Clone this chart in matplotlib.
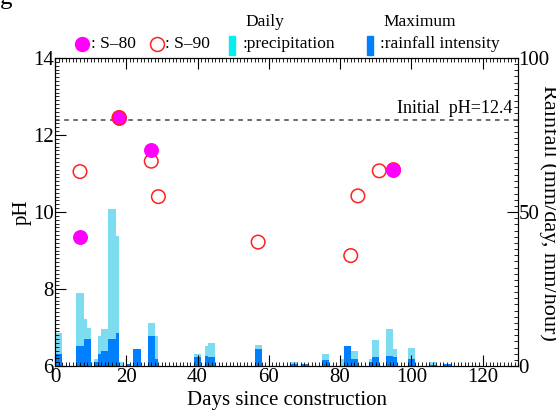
import matplotlib
matplotlib.use("Agg")
import matplotlib.pyplot as plt
from matplotlib.lines import Line2D
from matplotlib.patches import Rectangle
from matplotlib.ticker import MultipleLocator

plt.rcParams['font.family'] = ['Liberation Serif', 'DejaVu Serif']
plt.rcParams['font.size'] = 14

# pH measurements
s80_days = [7, 18, 27, 95]
s80_ph = [9.35, 12.45, 11.6, 11.1]
s90_days = [7, 18, 27, 29, 57, 83, 85, 91, 95]
s90_ph = [11.05, 12.45, 11.32, 10.4, 9.22, 8.87, 10.42, 11.07, 11.1]
initial_ph = 12.4

# rainfall (mm/day and mm/hour)
rain_days = [0, 1, 6, 7, 8, 9, 11, 12, 13, 14, 15, 16, 17, 18, 20, 22, 23,
             26, 27, 28, 39, 40, 42, 43, 44, 56, 57, 66, 67, 69, 70, 75, 76,
             80, 81, 82, 83, 84, 88, 89, 90, 93, 94, 95, 99, 100, 105, 106,
             109, 110]
daily_precip = [10.8, 10.8, 23.8, 23.8, 15.2, 12.4, 2.2, 9.7, 12.0, 12.0,
                51.0, 51.0, 42.2, 1.3, 0.8, 5.7, 5.7, 13.9, 13.9, 9.7, 3.9,
                3.9, 6.5, 7.5, 7.5, 6.8, 6.8, 1.3, 1.3, 0.8, 0.8, 3.9, 3.9,
                2.3, 6.5, 6.5, 4.9, 4.9, 2.3, 8.4, 8.4, 12.0, 12.0, 5.5, 5.8,
                5.8, 1.3, 1.3, 0.8, 0.8]
max_intensity = [3.9, 3.9, 6.6, 6.6, 8.8, 8.8, 1.2, 3.9, 4.9, 4.9, 8.8, 8.8,
                 10.8, 0.0, 0.8, 5.7, 5.7, 9.7, 9.7, 2.3, 2.9, 2.9, 3.2, 3.0,
                 3.0, 5.6, 5.6, 0.6, 0.6, 0.8, 0.8, 2.0, 2.0, 0.0, 6.5, 6.5,
                 2.3, 2.3, 1.4, 3.0, 3.0, 3.2, 3.2, 3.0, 2.3, 2.3, 0.5, 0.5,
                 0.8, 0.8]

light_blue = '#7ddcf0'
dark_blue = '#0080ff'

fig = plt.figure(figsize=(5.56, 4.17), dpi=100)
ax = fig.add_axes([0.099, 0.122, 0.833, 0.739])
ax2 = ax.twinx()

# bars on the rainfall axis
ax2.bar(rain_days, daily_precip, width=1, align='edge', color=light_blue, linewidth=0)
ax2.bar(rain_days, max_intensity, width=1, align='edge', color=dark_blue, linewidth=0)
ax2.set_ylim(0, 100)
ax2.set_yticks([0, 50, 100])
ax2.yaxis.set_minor_locator(MultipleLocator(2))
ax2.tick_params(which='both', direction='in', right=True)
ax2.tick_params(which='major', length=8, pad=0, labelsize=15)
ax2.tick_params(which='minor', length=3)
fig.text(548.5 / 556, 1 - 213 / 417, 'Rainfall (mm/day, mm/hour)', rotation=270,
         ha='center', va='center', fontsize=16)

# pH on top of bars
ax.set_zorder(ax2.get_zorder() + 1)
ax.patch.set_visible(False)
ax.axhline(initial_ph, color='#444444', linestyle=(0, (3, 3)), linewidth=1.1)
ax.text(128.5, initial_ph + 0.08, 'Initial  pH=12.4', ha='right', va='bottom', fontsize=13)
ax.scatter(s90_days, s90_ph, s=95, facecolors='none', edgecolors='#ff2020', linewidths=1.1, zorder=3)
ax.scatter(s80_days, s80_ph, s=95, color='#ff00ff', zorder=4)
ax.scatter([18], [12.45], s=95, facecolors='none', edgecolors='#ff2020', linewidths=1.1, zorder=5)

ax.set_xlim(0, 130)
ax.set_ylim(6, 14)
ax.xaxis.set_major_locator(MultipleLocator(20))
ax.xaxis.set_minor_locator(MultipleLocator(1))
ax.yaxis.set_major_locator(MultipleLocator(2))
ax.yaxis.set_minor_locator(MultipleLocator(0.1))
ax.tick_params(which='both', direction='in', top=True, right=False)
ax.tick_params(which='major', length=8, pad=1, labelsize=15)
ax.tick_params(which='minor', length=3)
ax.set_xlabel('Days since construction', labelpad=3, fontsize=15)
ax.set_ylabel('pH', labelpad=1, fontsize=15)

# legend above the axes
fig.add_artist(Line2D([82 / 556], [1 - 44 / 417], marker='o', markersize=10,
                      color='#ff00ff', linestyle='none'))
fig.text(91 / 556, 1 - 44 / 417, ': S\u201380', va='center', ha='left', fontsize=12.5)
fig.add_artist(Line2D([157 / 556], [1 - 44 / 417], marker='o', markersize=10,
                      markerfacecolor='none', markeredgecolor='#ff2020',
                      markeredgewidth=1.1, linestyle='none'))
fig.text(165 / 556, 1 - 44 / 417, ': S\u201390', va='center', ha='left', fontsize=12.5)
fig.add_artist(Rectangle((229 / 556, 1 - 55 / 417), 6 / 556, 19 / 417,
                         color='#00f0f0', transform=fig.transFigure))
fig.text(245 / 556, 1 - 22 / 417, 'Daily', va='center', ha='left', fontsize=12.5)
fig.text(243 / 556, 1 - 44 / 417, ':precipitation', va='center', ha='left', fontsize=12.5)
fig.add_artist(Rectangle((367 / 556, 1 - 55 / 417), 6 / 556, 19 / 417,
                         color=dark_blue, transform=fig.transFigure))
fig.text(383 / 556, 1 - 22 / 417, 'Maximum', va='center', ha='left', fontsize=12.5)
fig.text(380 / 556, 1 - 44 / 417, ':rainfall intensity', va='center', ha='left', fontsize=12.5)

# remnant of caption cut off at the top
fig.text(0.0, 1 - 9 / 417, 'g', fontsize=18, va='bottom', ha='left')

fig.savefig('out.png', dpi=100)
